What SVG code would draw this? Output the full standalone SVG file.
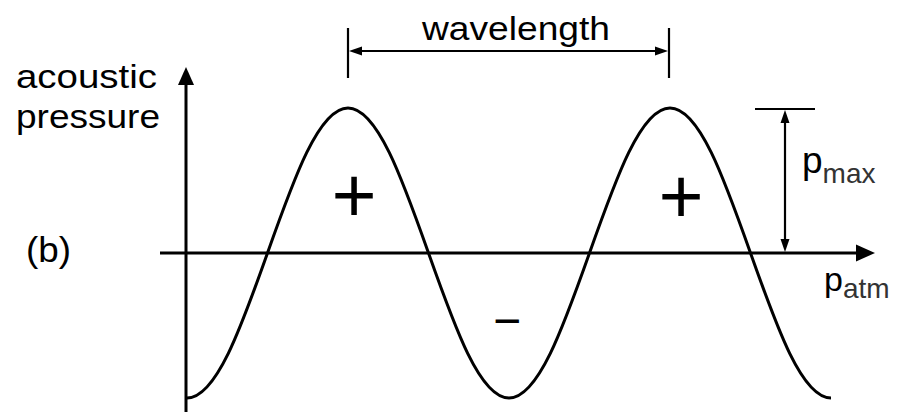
<svg xmlns="http://www.w3.org/2000/svg" width="897" height="412" viewBox="0 0 897 412">
  <style>
    .ln { stroke: #000; stroke-width: 3; fill: none; }
    .thin { stroke: #000; stroke-width: 2.2; fill: none; }
    .ah { fill: #000; stroke: none; }
    .t { font-family: "Liberation Sans", Arial, sans-serif; fill: #000; }
    .sign { font-family: "Liberation Mono", "Courier New", monospace; fill: #000; }
  </style>
  <rect width="897" height="412" fill="#fff"/>

  <g id="axes">
    <line class="ln" x1="186" y1="80" x2="186" y2="412"/>
    <polygon class="ah" points="186,67 178,85 194,85"/>
    <line class="ln" x1="160" y1="253" x2="860" y2="253"/>
    <polygon class="ah" points="875,253 856,244.5 856,261.5"/>
  </g>

  <g id="wave">
    <path class="ln" d="M187,398 c 29.13,0 54.25,-70.72 80.5,-145 c 26.25,-74.28 51.37,-145 80.5,-145 c 29.13,0 54.25,70.72 80.5,145 c 26.25,74.28 51.37,145 80.5,145 c 29.13,0 54.25,-70.72 80.5,-145 c 26.25,-74.28 51.37,-145 80.5,-145 c 29.13,0 54.25,70.72 80.5,145 c 26.25,74.28 51.37,145 80.5,145"/>
  </g>

  <g id="connectors">
    <g id="wavelength-dim">
      <line class="thin" x1="348" y1="28" x2="348" y2="78"/>
      <line class="thin" x1="669" y1="28" x2="669" y2="78"/>
      <line class="thin" x1="355" y1="51" x2="662" y2="51"/>
      <polygon class="ah" points="349,51 362,46.5 362,55.5"/>
      <polygon class="ah" points="668,51 655,46.5 655,55.5"/>
    </g>
    <g id="pmax-dim">
      <line class="thin" x1="755" y1="109" x2="815" y2="109" stroke="#555"/>
      <line class="thin" x1="785" y1="115" x2="785" y2="246"/>
      <polygon class="ah" points="785,110 780.5,123 789.5,123"/>
      <polygon class="ah" points="785,252 780.5,239 789.5,239"/>
    </g>
  </g>

  <g id="label-wavelength">
    <text class="t" x="422" y="40" font-size="34" textLength="188" lengthAdjust="spacingAndGlyphs">wavelength</text>
  </g>
  <g id="label-yaxis">
    <text class="t" x="16" y="88" font-size="34" textLength="141" lengthAdjust="spacingAndGlyphs">acoustic</text>
    <text class="t" x="16" y="128" font-size="34" textLength="144" lengthAdjust="spacingAndGlyphs">pressure</text>
  </g>
  <g id="label-b">
    <text class="t" x="26" y="262" font-size="35" textLength="45" lengthAdjust="spacingAndGlyphs">(b)</text>
  </g>
  <g id="label-plus1">
    <text class="sign" x="354" y="222" font-size="77" text-anchor="middle">+</text>
  </g>
  <g id="label-plus2">
    <text class="sign" x="681" y="223" font-size="77" text-anchor="middle">+</text>
  </g>
  <g id="label-minus">
    <text class="t" x="507" y="337" font-size="48" text-anchor="middle" fill="#555">−</text>
  </g>
  <g id="label-pmax">
    <text class="t" x="802" y="173" font-size="37">p<tspan font-size="28" y="183" fill="#333">max</tspan></text>
  </g>
  <g id="label-patm">
    <text class="t" x="824" y="291" font-size="34">p<tspan font-size="28" y="298" fill="#333">atm</tspan></text>
  </g>
</svg>
